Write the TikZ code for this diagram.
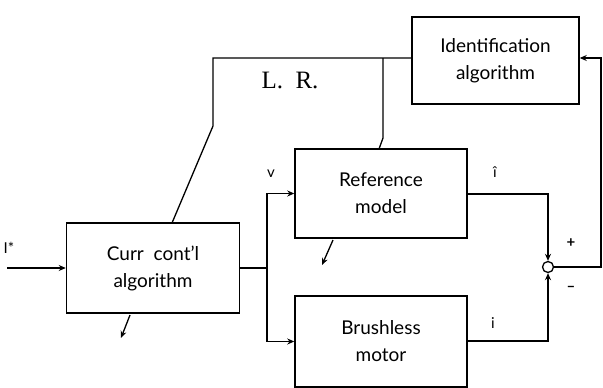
\documentclass[tikz,border=0pt]{standalone}
\usepackage{fontspec}
\setmainfont{Lato}
\newfontfamily\lrfont{Liberation Serif}
\usetikzlibrary{arrows.meta}
\begin{document}
\begin{tikzpicture}[x=1pt,y=-1pt,
  blk/.style={draw,line width=1.5pt,align=center,inner sep=0pt,font=\fontsize{19}{27}\selectfont},
  ln/.style={line width=1.3pt},
  arr/.style={ln,-{Stealth[length=7pt,width=6pt]}},
  lbl/.style={font=\fontsize{15}{17}\selectfont}]
\useasboundingbox (0,0) rectangle (603,388);
\node[blk,minimum width=167pt,minimum height=87pt] (ident) at (495.5,60.5) {Identification\\algorithm};
\node[blk,minimum width=173pt,minimum height=90pt] (curr) at (153,268) {Curr\ \ cont'l\\algorithm};
\node[blk,minimum width=172pt,minimum height=89pt] (ref) at (381,193.5) {Reference\\model};
\node[blk,minimum width=172pt,minimum height=91pt] (brush) at (381,341.5) {Brushless\\motor};
\node[draw,ln,circle,minimum size=11pt,inner sep=0pt] (sum) at (548,267) {};
% coordinates
\coordinate (in) at (7,268);
\coordinate (j) at (267,268);
\coordinate (tl) at (213,58);
\coordinate (tlb) at (213,126);
\coordinate (ccin) at (172,223);
\coordinate (tm) at (383,58);
\coordinate (tmb) at (383,138);
\coordinate (rfin) at (379,149);
\coordinate (rc) at (548,194);
\coordinate (bc) at (548,341);
\coordinate (fr) at (601,267);
\coordinate (fru) at (601,58);
% connectors
\draw[arr] (in) -- (curr.west);
\draw[ln] (curr.east) -- (j);
\draw[arr] (j) |- (ref.west);
\draw[arr] (j) |- (brush.west);
\draw[ln] (ident.west |- tl) -- (tl) -- (tlb) -- (ccin);
\draw[ln] (tm) -- (tmb) -- (rfin);
\draw[arr] (ref.east |- rc) -- (rc) -- (sum.north);
\draw[arr] (brush.east |- bc) -- (bc) -- (sum.south);
\draw[arr] (sum.east) -- (fr) -- (fru) -- (ident.east |- fru);
% small arrows
\coordinate (a1s) at (130,315); \coordinate (a1e) at (121,338);
\coordinate (a2s) at (333,240); \coordinate (a2e) at (322,265);
\draw[arr] (a1s) -- (a1e);
\draw[arr] (a2s) -- (a2e);
% labels
\node[font=\lrfont\fontsize{25}{27}\selectfont] (lr) at (290,80) {L.\ \ R.};
\node[lbl] (v) at (271,174) {v};
\node[lbl] (ihat) at (495,172) {î};
\node[lbl] (ilow) at (493,323) {i};
\node[lbl,font=\bfseries\fontsize{15}{17}\selectfont] (plus) at (571,243) {+};
\node[lbl,font=\bfseries\fontsize{15}{17}\selectfont] (minus) at (571,289) {--};
\node[lbl] (istar) at (9,248) {I*};
\end{tikzpicture}
\end{document}
